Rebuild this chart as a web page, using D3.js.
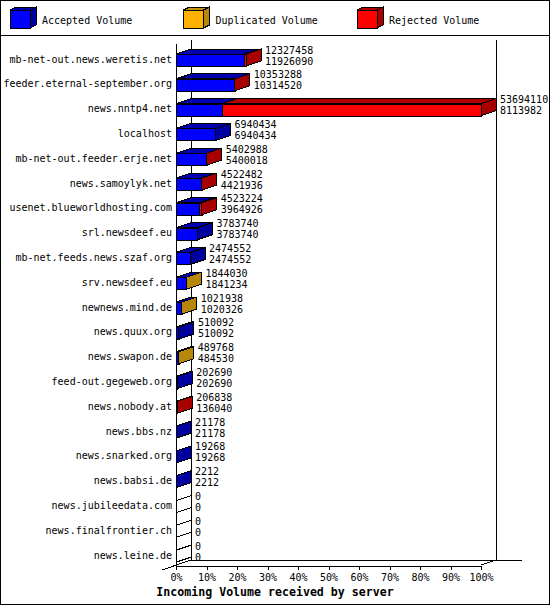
<!DOCTYPE html>
<html>
<head>
<meta charset="utf-8">
<script src="https://cdn.jsdelivr.net/npm/d3@7"></script>
<style>
  body { margin: 0; background: #fff; }
  svg { display: block; font-family: "DejaVu Sans Mono", monospace; }
</style>
</head>
<body>
<svg id="canvas"></svg>
<script>
// servers, offered volume, accepted volume, and how the rest splits
const servers = [
  "mb-net-out.news.weretis.net", "feeder.eternal-september.org", "news.nntp4.net",
  "localhost", "mb-net-out.feeder.erje.net", "news.samoylyk.net",
  "usenet.blueworldhosting.com", "srl.newsdeef.eu", "mb-net.feeds.news.szaf.org",
  "srv.newsdeef.eu", "newnews.mind.de", "news.quux.org", "news.swapon.de",
  "feed-out.gegeweb.org", "news.nobody.at", "news.bbs.nz", "news.snarked.org",
  "news.babsi.de", "news.jubileedata.com", "news.finalfrontier.ch", "news.leine.de"
];
const offered = [12327458, 10353288, 53694110, 6940434, 5402988, 4522482, 4523224,
  3783740, 2474552, 1844030, 1021938, 510092, 489768, 202690, 206838, 21178, 19268,
  2212, 0, 0, 0];
const accepted = [11926090, 10314520, 8113982, 6940434, 5400018, 4421936, 3964926,
  3783740, 2474552, 1841234, 1020326, 510092, 484530, 202690, 136040, 21178, 19268,
  2212, 0, 0, 0];
const duplicated = [0, 0, 0, 0, 0, 0, 0, 0, 0, 2796, 1612, 0, 5238, 0, 0, 0, 0, 0, 0, 0, 0];
const rejected = [401368, 38768, 45580128, 0, 2970, 100546, 558298, 0, 0, 0, 0, 0, 0,
  0, 70798, 0, 0, 0, 0, 0, 0];

const seriesNames = ["Accepted Volume", "Duplicated Volume", "Rejected Volume"];
const ticks = [0, 0.1, 0.2, 0.3, 0.4, 0.5, 0.6, 0.7, 0.8, 0.9, 1];

const colors = [
  {front: "#0000ff", top: "#0000b0", side: "#0000a0"},
  {front: "#ffb000", top: "#c89010", side: "#b8860b"},
  {front: "#ff0000", top: "#b00000", side: "#a80000"}
];

const W = 550, H = 605;
const dx = 15, dy = 5;

let svg = d3.select("#canvas")
  .attr("width", W)
  .attr("height", H)
  .attr("shape-rendering", "crispEdges");

svg.append("rect")
  .attr("x", 0.5).attr("y", 0.5)
  .attr("width", W - 1).attr("height", H - 1)
  .attr("fill", "#fff").attr("stroke", "#000");

svg.append("line")
  .attr("x1", 0).attr("x2", W)
  .attr("y1", 35.5).attr("y2", 35.5)
  .attr("stroke", "#000");

// legend cubes
const legend = svg.append("g").selectAll("g")
  .data(seriesNames)
  .join("g")
  .attr("transform", (d, i) => `translate(${10 + i * 173.5},0)`);

legend.append("path")
  .attr("d", "M20,10 L26,7 L26,25 L20,28 Z")
  .attr("fill", (d, i) => colors[i].side)
  .attr("stroke", "#000");
legend.append("path")
  .attr("d", "M0,10 L6,7 L26,7 L20,10 Z")
  .attr("fill", (d, i) => colors[i].top)
  .attr("stroke", "#000");
legend.append("rect")
  .attr("x", 0).attr("y", 10)
  .attr("width", 20).attr("height", 18)
  .attr("fill", (d, i) => colors[i].front)
  .attr("stroke", "#000");
legend.append("text")
  .attr("x", 32).attr("y", 20)
  .attr("dy", "0.35em")
  .attr("font-size", 10)
  .text(d => d);

// scales
let x = d3.scaleLinear()
  .domain([0, d3.max(offered)])
  .range([176, 481]);
let xp = d3.scaleLinear()
  .domain([0, 1])
  .range([176, 481]);
let y = d3.scaleBand()
  .domain(servers)
  .range([44, 565]);

const x0 = xp(0), x1 = xp(1);
const yTop = 40, yBot = y.range()[1];

// walls and floor
const walls = svg.append("g").attr("stroke", "#000").attr("fill", "none");
walls.append("line").attr("x1", x0 + 0.5).attr("x2", x0 + 0.5).attr("y1", yTop + 4).attr("y2", yBot);
walls.append("line").attr("x1", x0 + dx + 0.5).attr("x2", x0 + dx + 0.5).attr("y1", yTop).attr("y2", yBot - dy);
walls.append("line").attr("x1", x1 + dx + 0.5).attr("x2", x1 + dx + 0.5).attr("y1", yTop).attr("y2", yBot - dy);
walls.append("line").attr("x1", x0 + dx).attr("x2", 522).attr("y1", yBot - dy + 0.5).attr("y2", yBot - dy + 0.5);
walls.append("line").attr("x1", x0 - 14).attr("y1", yBot + 5).attr("x2", x0 + dx).attr("y2", yBot - dy);
walls.append("line").attr("x1", x1).attr("y1", yBot).attr("x2", x1 + dx).attr("y2", yBot - dy);

// axis
let axis = svg.append("g")
  .attr("transform", `translate(0,${yBot + 0.5})`)
  .call(d3.axisBottom(xp).tickValues(ticks).tickFormat(d3.format(".0%"))
    .tickSize(4).tickSizeOuter(0).tickPadding(4));
axis.selectAll("text")
  .attr("font-family", "DejaVu Sans Mono")
  .attr("font-size", 10)
  .attr("fill", "#000");
axis.selectAll("line, path").attr("stroke", "#000");

svg.append("text")
  .attr("x", W / 2).attr("y", 592)
  .attr("dy", "0.35em")
  .attr("text-anchor", "middle")
  .attr("font-size", 11.6)
  .attr("font-weight", "bold")
  .text("Incoming Volume received by server");

// bars
const rows = servers.map((s, i) => ({
  name: s,
  segs: [accepted[i], duplicated[i], rejected[i]],
  offered: offered[i],
  accepted: accepted[i]
}));

let bar = svg.append("g").selectAll("g")
  .data(rows)
  .join("g");

bar.each(function(d) {
  let g = d3.select(this);
  let yt = y(d.name) + 10, yb = yt + 12;
  let c = 0, last = -1;
  d.segs.forEach((v, k) => {
    if (v <= 0) return;
    let a = x(c), b = x(c + v);
    c += v;
    last = k;
    g.append("path")
      .attr("d", `M${a},${yt} L${a + dx},${yt - dy} L${b + dx},${yt - dy} L${b},${yt} Z`)
      .attr("fill", colors[k].top)
      .attr("stroke", "#000");
    g.append("rect")
      .attr("x", a + 0.5).attr("y", yt + 0.5)
      .attr("width", b - a).attr("height", yb - yt)
      .attr("fill", colors[k].front)
      .attr("stroke", "#000");
  });
  let r = x(d.offered);
  g.append("path")
    .attr("d", `M${r},${yt} L${r + dx},${yt - dy} L${r + dx},${yb - dy} L${r},${yb} Z`)
    .attr("fill", last < 0 ? "#fff" : colors[last].side)
    .attr("stroke", "#000");
  g.append("text")
    .attr("x", r + dx + 4).attr("y", y(d.name) + 6)
    .attr("dy", "0.35em")
    .attr("font-size", 10)
    .text(d.offered);
  g.append("text")
    .attr("x", r + dx + 4).attr("y", y(d.name) + 17)
    .attr("dy", "0.35em")
    .attr("font-size", 10)
    .text(d.accepted);
});

// server labels
svg.append("g").selectAll("text")
  .data(servers)
  .join("text")
  .attr("x", 172)
  .attr("y", d => y(d) + 15)
  .attr("dy", "0.35em")
  .attr("text-anchor", "end")
  .attr("font-size", 10)
  .text(d => d);
</script>
</body>
</html>
